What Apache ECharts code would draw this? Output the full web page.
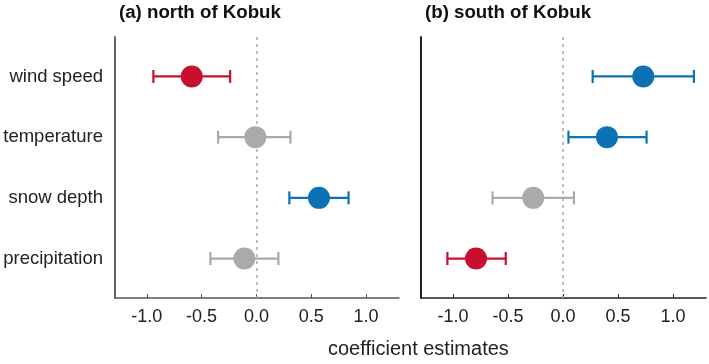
<!DOCTYPE html>
<html>
<head>
<meta charset="utf-8">
<script src="https://cdn.jsdelivr.net/npm/echarts@6/dist/echarts.min.js"></script>
<style>
  html, body { margin: 0; padding: 0; background: #fff; }
  #main { width: 709px; height: 364px; }
</style>
</head>
<body>
<div id="main"></div>
<script>
// predictors, top to bottom
var categories = ["wind speed", "temperature", "snow depth", "precipitation"];
var xTicks = [-1.0, -0.5, 0.0, 0.5, 1.0];

// (a) north of Kobuk
var northEst = [-0.59, -0.01, 0.57, -0.11];
var northLow = [-0.94, -0.35, 0.30, -0.42];
var northHigh = [-0.24, 0.31, 0.84, 0.20];

// (b) south of Kobuk
var southEst = [0.73, 0.40, -0.27, -0.79];
var southLow = [0.27, 0.05, -0.64, -1.05];
var southHigh = [1.19, 0.76, 0.10, -0.52];

var RED = "#c8102e", BLUE = "#0a72b5", GREY = "#aaaaaa";
var FONT = "Liberation Sans, Arial, sans-serif";

function pickColor(lo, hi) {
  if (hi < 0) return RED;
  if (lo > 0) return BLUE;
  return GREY;
}

function buildRows(est, lo, hi) {
  return categories.map(function (c, i) {
    return {
      value: [est[i], i + 1, lo[i], hi[i]],
      itemStyle: { color: pickColor(lo[i], hi[i]), opacity: 1 }
    };
  });
}

function errorBars(params, api) {
  var y = api.value(1);
  var a = api.coord([api.value(2), y]);
  var b = api.coord([api.value(3), y]);
  var col = api.visual("color");
  var cap = 6.5;
  var st = { stroke: col, lineWidth: 2.2 };
  return {
    type: "group",
    children: [
      { type: "line", shape: { x1: a[0], y1: a[1], x2: b[0], y2: b[1] }, style: st },
      { type: "line", shape: { x1: a[0], y1: a[1] - cap, x2: a[0], y2: a[1] + cap }, style: st },
      { type: "line", shape: { x1: b[0], y1: b[1] - cap, x2: b[0], y2: b[1] + cap }, style: st }
    ]
  };
}

function xAxisOf(idx, lineColor) {
  return {
    gridIndex: idx,
    type: "value",
    min: -1.29,
    max: 1.3,
    splitLine: { show: false },
    axisLine: { onZero: false, lineStyle: { color: lineColor, width: 1.5 } },
    axisTick: { inside: true, length: 4, customValues: xTicks, lineStyle: { color: lineColor } },
    axisLabel: {
      customValues: xTicks,
      formatter: function (v) { return v.toFixed(1); },
      color: "#222", fontSize: 18, fontFamily: FONT, margin: 10
    }
  };
}

function yAxisOf(idx, lineColor, showLabels) {
  return {
    gridIndex: idx,
    type: "value",
    inverse: true,
    min: 0.35,
    max: 4.65,
    splitLine: { show: false },
    axisLine: { show: true, onZero: false, lineStyle: { color: lineColor, width: 2 } },
    axisTick: { show: false },
    axisLabel: {
      show: showLabels,
      customValues: [1, 2, 3, 4],
      formatter: function (v) { return categories[Math.round(v) - 1]; },
      color: "#222", fontSize: 18.5, fontFamily: FONT, margin: 12
    }
  };
}

function panelSeries(idx, est, lo, hi) {
  var rows = buildRows(est, lo, hi);
  return [
    {
      type: "custom",
      xAxisIndex: idx, yAxisIndex: idx,
      renderItem: errorBars,
      data: rows,
      z: 3
    },
    {
      type: "scatter",
      xAxisIndex: idx, yAxisIndex: idx,
      symbolSize: 22,
      itemStyle: { opacity: 1 },
      data: rows,
      z: 4,
      markLine: {
        silent: true,
        symbol: "none",
        label: { show: false },
        lineStyle: { color: "#aaaaaa", type: [3, 4], width: 1.5 },
        data: [{ xAxis: 0 }],
        z: 2
      }
    }
  ];
}

var chart = echarts.init(document.getElementById("main"));
chart.setOption({
  backgroundColor: "#fff",
  animation: false,
  title: [
    { text: "(a) north of Kobuk", left: 119, top: 3, padding: 0,
      textStyle: { fontSize: 18.7, fontWeight: "bold", color: "#111", fontFamily: FONT } },
    { text: "(b) south of Kobuk", left: 425, top: 3, padding: 0,
      textStyle: { fontSize: 18.7, fontWeight: "bold", color: "#111", fontFamily: FONT } }
  ],
  grid: [
    { left: 115, top: 37, width: 284, height: 261 },
    { left: 421, top: 37, width: 285, height: 261 }
  ],
  xAxis: [xAxisOf(0, "#555"), xAxisOf(1, "#222")],
  yAxis: [yAxisOf(0, "#666", true), yAxisOf(1, "#222", false)],
  graphic: [{
    type: "text",
    left: 328,
    top: 339,
    style: { text: "coefficient estimates", fontSize: 20, fontFamily: FONT, fill: "#222" }
  }],
  series: panelSeries(0, northEst, northLow, northHigh)
    .concat(panelSeries(1, southEst, southLow, southHigh))
});
</script>
</body>
</html>
